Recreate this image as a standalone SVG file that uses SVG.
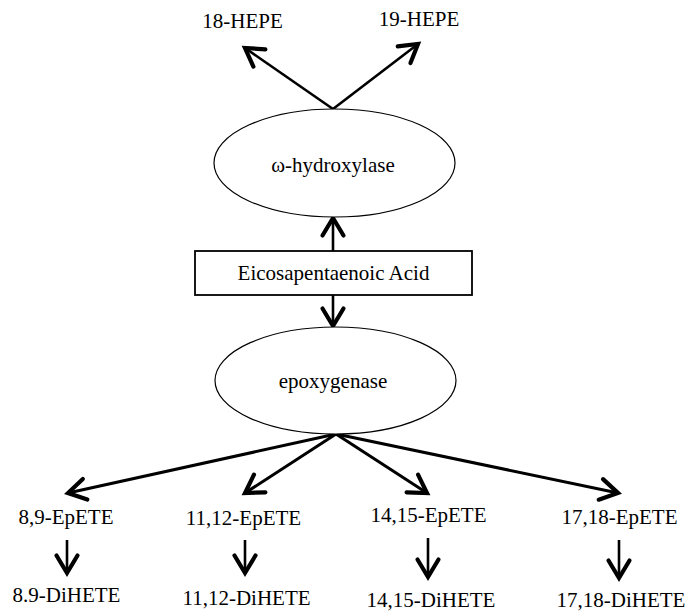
<svg xmlns="http://www.w3.org/2000/svg" width="688" height="612" viewBox="0 0 688 612">
<style>
text{font-family:"Liberation Serif","Times New Roman",serif;font-size:21px;fill:#000;text-anchor:middle}
.node{fill:#fff;stroke:#000;stroke-width:1.2}
.box{fill:#fff;stroke:#000;stroke-width:1.8}
.conn{stroke:#000;fill:none;stroke-width:2.6;marker-end:url(#ah)}
</style>
<defs>
<marker id="ah" markerUnits="userSpaceOnUse" viewBox="-24 -16 30 32" refX="0" refY="0" markerWidth="30" markerHeight="32" orient="auto" overflow="visible">
<path d="M -17.5 -10.5 L 0 0 L -17.5 10.5" fill="none" stroke="#000" stroke-width="4.2" stroke-linecap="round" stroke-linejoin="miter"/>
</marker>
</defs>
<g id="connectors">
<line class="conn" x1="333" y1="109" x2="245" y2="48"/>
<line class="conn" x1="333" y1="109" x2="418" y2="44"/>
<line class="conn" x1="333" y1="251" x2="333" y2="218"/>
<line class="conn" x1="333" y1="295" x2="333" y2="326"/>
<line class="conn" x1="336" y1="434" x2="68" y2="493" style="stroke-width:3"/>
<line class="conn" x1="336" y1="434" x2="245" y2="493" style="stroke-width:3"/>
<line class="conn" x1="336" y1="434" x2="427" y2="493" style="stroke-width:3"/>
<line class="conn" x1="336" y1="434" x2="618" y2="493" style="stroke-width:3"/>
<line class="conn" x1="67" y1="540" x2="67" y2="573"/>
<line class="conn" x1="245" y1="540" x2="245" y2="573"/>
<line class="conn" x1="428" y1="538" x2="428" y2="577"/>
<line class="conn" x1="619" y1="540" x2="619" y2="578"/>
</g>
<g id="hepe18"><text x="242.5" y="28">18-HEPE</text></g>
<g id="hepe19"><text x="419" y="26">19-HEPE</text></g>
<g id="hydroxylase"><ellipse class="node" cx="334.5" cy="163" rx="120.5" ry="54"/><text x="333" y="172">ω-hydroxylase</text></g>
<g id="epa"><rect class="box" x="195" y="251" width="277" height="44"/><text x="333.5" y="280">Eicosapentaenoic Acid</text></g>
<g id="epoxygenase"><ellipse class="node" cx="335.5" cy="380.5" rx="120.5" ry="53.5"/><text x="333" y="388">epoxygenase</text></g>
<g id="epete89"><text x="66" y="524">8,9-EpETE</text></g>
<g id="epete1112"><text x="243.5" y="525">11,12-EpETE</text></g>
<g id="epete1415"><text x="428.5" y="522">14,15-EpETE</text></g>
<g id="epete1718"><text x="619.5" y="524">17,18-EpETE</text></g>
<g id="dihete89"><text x="66.5" y="602">8.9-DiHETE</text></g>
<g id="dihete1112"><text x="246.5" y="605">11,12-DiHETE</text></g>
<g id="dihete1415"><text x="431" y="607">14,15-DiHETE</text></g>
<g id="dihete1718"><text x="621" y="607">17,18-DiHETE</text></g>
</svg>
